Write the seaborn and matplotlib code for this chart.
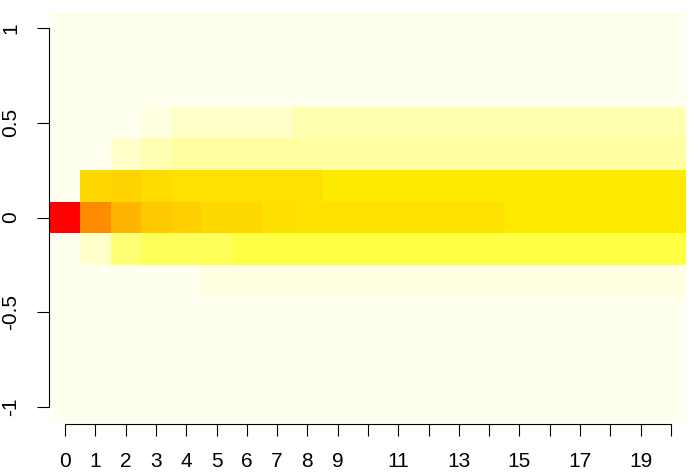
import numpy as np
import pandas as pd
import seaborn as sns
import matplotlib.pyplot as plt
from matplotlib.colors import LinearSegmentedColormap

plt.rcParams['font.family'] = ['Liberation Sans', 'DejaVu Sans']

# steps along x, levels along y (-1 .. 1 in sixths)
steps = list(range(21))
levels = [1, 5/6, 4/6, 3/6, 2/6, 1/6, 0, -1/6, -2/6, -3/6, -4/6, -5/6, -1]

# probability per level, one list per row (21 steps each); rows not listed are 0
p_half = [0, 0, 0, 0.017, 0.046, 0.046, 0.046, 0.046, 0.067, 0.067, 0.067,
          0.067, 0.067, 0.067, 0.067, 0.067, 0.067, 0.067, 0.067, 0.067, 0.067]
p_third = [0, 0, 0.04, 0.063, 0.083, 0.083, 0.083, 0.083, 0.083, 0.083, 0.083,
           0.083, 0.083, 0.083, 0.083, 0.083, 0.083, 0.083, 0.083, 0.083, 0.083]
p_sixth = [0, 0.365, 0.38, 0.353, 0.34, 0.34, 0.34, 0.34, 0.34, 0.312, 0.312,
           0.312, 0.312, 0.312, 0.312, 0.312, 0.312, 0.312, 0.312, 0.312, 0.312]
p_zero = [1.0, 0.59, 0.47, 0.41, 0.39, 0.365, 0.365, 0.347, 0.338, 0.338, 0.338,
          0.338, 0.338, 0.338, 0.338, 0.312, 0.312, 0.312, 0.312, 0.312, 0.312]
p_msixth = [0, 0.04, 0.13, 0.16, 0.16, 0.16, 0.183, 0.183, 0.183, 0.183, 0.183,
            0.183, 0.183, 0.183, 0.183, 0.183, 0.183, 0.183, 0.183, 0.183, 0.183]
p_mthird = [0, 0, 0, 0, 0, 0.017, 0.017, 0.017, 0.017, 0.017, 0.017,
            0.017, 0.017, 0.017, 0.017, 0.017, 0.017, 0.017, 0.017, 0.017, 0.017]
zeros = [0] * 21

rows = [zeros, zeros, zeros, p_half, p_third, p_sixth, p_zero,
        p_msixth, p_mthird, zeros, zeros, zeros, zeros]
df = pd.DataFrame(rows, index=levels, columns=steps)

# heat colours: red (high) -> yellow -> cream (low)
heat = LinearSegmentedColormap.from_list(
    'heat', [(0, '#FFFFF0'), (0.25, '#FFFF00'), (1, '#FF0000')])

fig = plt.figure(figsize=(6.99, 4.73), dpi=100)
ax = fig.add_axes([50/699, 1 - 423/473, 636/699, 411/473])
sns.heatmap(df, ax=ax, cmap=heat, vmin=0, vmax=1, cbar=False)

# x ticks at each step, R-style thinned labels
xlab = [str(s) if (s < 10 or s % 2 == 1) else '' for s in steps]
ax.set_xticks([s + 0.5 for s in steps])
ax.set_xticklabels(xlab)

yt = [1, 0.5, 0, -0.5, -1]
ax.set_yticks([6.5 - 6 * v for v in yt])
ax.set_yticklabels(['1', '0.5', '0', '-0.5', '-1'])

for side in ['left', 'bottom']:
    ax.spines[side].set_visible(True)
    ax.spines[side].set_linewidth(0.8)
    ax.spines[side].set_color('black')
ax.spines['left'].set_bounds(0.5, 12.5)
ax.spines['bottom'].set_bounds(0.5, 20.5)
ax.spines['left'].set_position(('outward', 1))
ax.spines['bottom'].set_position(('outward', 1))

ax.tick_params(axis='both', direction='out', length=8.6, width=0.8,
               color='black', labelsize=15, labelcolor='black')
ax.tick_params(axis='x', pad=11, labelrotation=0)
ax.tick_params(axis='y', pad=12, labelrotation=90)
for t in ax.get_yticklabels():
    t.set_verticalalignment('center')
ax.set_xlabel('')
ax.set_ylabel('')

fig.savefig('out.png', dpi=100)
